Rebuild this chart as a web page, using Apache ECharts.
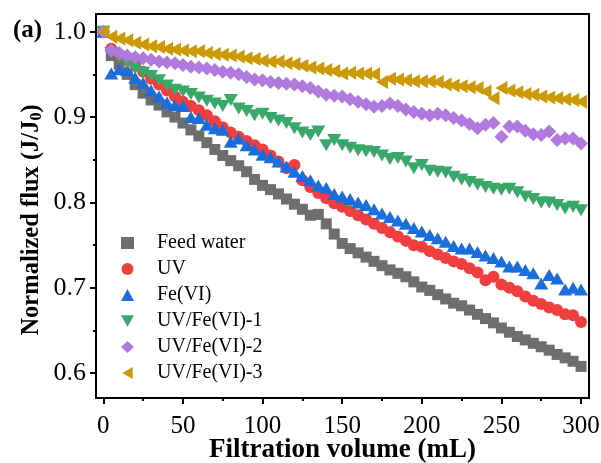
<!DOCTYPE html>
<html>
<head>
<meta charset="utf-8">
<script src="https://cdn.jsdelivr.net/npm/echarts@6/dist/echarts.min.js"></script>
<style>
  html, body { margin: 0; padding: 0; background: #fff; }
  #chart { width: 601px; height: 463px; }
</style>
</head>
<body>
<div id="chart"></div>
<script>
const volume = [0, 5, 10, 15, 20, 25, 30, 35, 40, 45, 50, 55, 60, 65, 70, 75, 80, 85, 90, 95,
  100, 105, 110, 115, 120, 125, 130, 135, 140, 145, 150, 155, 160, 165, 170, 175, 180, 185, 190, 195,
  200, 205, 210, 215, 220, 225, 230, 235, 240, 245, 250, 255, 260, 265, 270, 275, 280, 285, 290, 295, 300];

const feedWater = [1.000, 0.972, 0.962, 0.950, 0.938, 0.928, 0.920, 0.914, 0.906, 0.900,
  0.893, 0.885, 0.878, 0.870, 0.862, 0.855, 0.849, 0.843, 0.836, 0.827,
  0.820, 0.815, 0.810, 0.804, 0.798, 0.792, 0.785, 0.786, 0.775, 0.763,
  0.752, 0.746, 0.741, 0.736, 0.731, 0.726, 0.721, 0.717, 0.713, 0.707,
  0.701, 0.697, 0.692, 0.687, 0.682, 0.679, 0.674, 0.669, 0.664, 0.659,
  0.653, 0.648, 0.643, 0.639, 0.635, 0.631, 0.627, 0.622, 0.618, 0.614, 0.608];

const uv = [1.000, 0.980, 0.973, 0.967, 0.961, 0.953, 0.945, 0.938, 0.931, 0.924,
  0.918, 0.913, 0.908, 0.902, 0.895, 0.888, 0.882, 0.877, 0.872, 0.867,
  0.862, 0.855, 0.848, 0.840, 0.844, 0.826, 0.818, 0.811, 0.805, 0.799,
  0.795, 0.790, 0.785, 0.780, 0.775, 0.770, 0.765, 0.760, 0.755, 0.750,
  0.748, 0.743, 0.739, 0.735, 0.731, 0.728, 0.723, 0.718, 0.709, 0.713,
  0.704, 0.700, 0.696, 0.690, 0.685, 0.681, 0.677, 0.674, 0.669, 0.668, 0.660];

const feVI = [1.000, 0.951, 0.956, 0.955, 0.946, 0.940, 0.931, 0.924, 0.917, 0.914,
  0.913, 0.900, 0.899, 0.891, 0.887, 0.885, 0.871, 0.875, 0.867, 0.862,
  0.856, 0.853, 0.848, 0.842, 0.836, 0.831, 0.826, 0.820, 0.817, 0.810,
  0.807, 0.804, 0.800, 0.797, 0.792, 0.787, 0.783, 0.779, 0.775, 0.770,
  0.766, 0.762, 0.758, 0.754, 0.749, 0.746, 0.746, 0.742, 0.738, 0.735,
  0.731, 0.725, 0.725, 0.721, 0.717, 0.705, 0.715, 0.711, 0.698, 0.700, 0.698];

const uvFe1 = [1.000, 0.975, 0.970, 0.964, 0.957, 0.952, 0.948, 0.943, 0.937, 0.932,
  0.930, 0.927, 0.923, 0.919, 0.916, 0.913, 0.920, 0.910, 0.907, 0.902,
  0.904, 0.899, 0.896, 0.893, 0.887, 0.882, 0.879, 0.883, 0.867, 0.873,
  0.867, 0.864, 0.861, 0.860, 0.859, 0.855, 0.851, 0.852, 0.848, 0.840,
  0.844, 0.837, 0.836, 0.835, 0.830, 0.827, 0.824, 0.821, 0.818, 0.816,
  0.815, 0.816, 0.812, 0.807, 0.804, 0.800, 0.800, 0.797, 0.793, 0.795, 0.791];

const uvFe2 = [1.000, 0.978, 0.975, 0.972, 0.970, 0.969, 0.967, 0.965, 0.964, 0.963,
  0.961, 0.959, 0.958, 0.957, 0.955, 0.953, 0.952, 0.950, 0.947, 0.944,
  0.943, 0.941, 0.940, 0.939, 0.938, 0.936, 0.934, 0.930, 0.926, 0.925,
  0.924, 0.921, 0.918, 0.915, 0.912, 0.913, 0.916, 0.913, 0.909, 0.906,
  0.904, 0.902, 0.904, 0.902, 0.899, 0.896, 0.892, 0.887, 0.891, 0.893,
  0.877, 0.889, 0.889, 0.884, 0.880, 0.879, 0.883, 0.873, 0.875, 0.875, 0.869];

const uvFe3 = [1.000, 0.994, 0.992, 0.990, 0.987, 0.985, 0.983, 0.982, 0.980, 0.979,
  0.978, 0.977, 0.977, 0.975, 0.974, 0.973, 0.972, 0.971, 0.969, 0.968,
  0.966, 0.965, 0.965, 0.963, 0.962, 0.960, 0.958, 0.957, 0.955, 0.954,
  0.951, 0.952, 0.951, 0.951, 0.950, 0.941, 0.945, 0.944, 0.943, 0.942,
  0.942, 0.942, 0.941, 0.938, 0.937, 0.936, 0.935, 0.934, 0.930, 0.922,
  0.934, 0.931, 0.929, 0.927, 0.926, 0.924, 0.923, 0.922, 0.921, 0.920, 0.918];

const seriesNames = ['Feed water', 'UV', 'Fe(VI)', 'UV/Fe(VI)-1', 'UV/Fe(VI)-2', 'UV/Fe(VI)-3'];
const xTicks = [0, 50, 100, 150, 200, 250, 300];
const xMinorTicks = [25, 75, 125, 175, 225, 275];
const yTicks = [0.6, 0.7, 0.8, 0.9, 1.0];
const yMinorTicks = [0.65, 0.75, 0.85, 0.95];

const FONT = 'Liberation Serif';
const C = {
  gray: '#6e6e6e',
  red: '#f03e3e',
  blue: '#1a6edb',
  green: '#38a86b',
  purple: '#b079e0',
  gold: '#cc9906'
};
const DOWN_TRI = 'path://M0,0 L12,0 L6,10.4 Z';
const LEFT_TRI = 'path://M0,6 L10.4,0 L10.4,12 Z';

const pairs = ys => volume.map((v, i) => [v, ys[i]]);

function scatter(name, data, color, symbol, size) {
  return {
    name: name,
    type: 'scatter',
    data: pairs(data),
    symbol: symbol,
    symbolSize: size,
    itemStyle: { color: color, opacity: 1 },
    emphasis: { disabled: true }
  };
}

const chart = echarts.init(document.getElementById('chart'), null, { renderer: 'canvas' });

const xMin = -4.6, xMax = 305, yMin = 0.571, yMax = 1.0207;
const tickLine = { color: '#000', width: 2 };

chart.setOption({
  animation: false,
  textStyle: { fontFamily: FONT },
  grid: {
    left: 96, right: 12, top: 14, bottom: 65,
    containLabel: false,
    outerBoundsMode: 'none',
    show: true, borderColor: '#000', borderWidth: 2
  },
  graphic: [{
    type: 'text', left: 13, top: 18,
    style: { text: '(a)', font: 'bold 25px "Liberation Serif"', fill: '#000' }
  }, {
    // axis titles placed directly so label overlap logic does not move them
    type: 'text', x: 342.5, y: 450,
    style: {
      text: 'Filtration volume (mL)', align: 'center', verticalAlign: 'middle',
      font: 'bold 27px "Liberation Serif"', fill: '#000'
    }
  }, {
    type: 'text', x: 30, y: 220, rotation: Math.PI / 2,
    style: {
      text: '{a|Normalized flux (J/J}{s|0}{a|)}',
      align: 'center', verticalAlign: 'middle',
      rich: {
        a: { fontFamily: FONT, fontWeight: 'bold', fontSize: 24.5, fill: '#000', lineHeight: 29, verticalAlign: 'bottom' },
        s: { fontFamily: FONT, fontWeight: 'bold', fontSize: 16, fill: '#000', lineHeight: 25, verticalAlign: 'bottom' }
      }
    }
  }],
  legend: {
    orient: 'vertical',
    left: 121, top: 233,
    padding: 0,
    itemWidth: 13, itemHeight: 12,
    itemGap: 6,
    data: seriesNames,
    textStyle: { fontFamily: FONT, fontSize: 20, color: '#000', lineHeight: 20, padding: [0, 0, 0, 18] }
  },
  xAxis: [{
    type: 'value', min: xMin, max: xMax,
    axisLine: { show: true, onZero: false, lineStyle: { color: '#000', width: 2 } },
    axisTick: { show: true, customValues: xTicks, length: 6, lineStyle: tickLine },
    axisLabel: { customValues: xTicks, fontFamily: FONT, fontSize: 25, color: '#000', margin: 16 },
    splitLine: { show: false }
  }, {
    type: 'value', min: xMin, max: xMax, position: 'bottom',
    axisLine: { show: false, onZero: false },
    axisTick: { show: true, customValues: xMinorTicks, length: 3, lineStyle: tickLine },
    axisLabel: { show: false },
    splitLine: { show: false }
  }],
  yAxis: [{
    type: 'value', min: yMin, max: yMax,
    axisLine: { show: true, onZero: false, lineStyle: { color: '#000', width: 2 } },
    axisTick: { show: true, customValues: yTicks, length: 6, lineStyle: tickLine },
    axisLabel: {
      customValues: yTicks, fontFamily: FONT, fontSize: 26, color: '#000', margin: 10,
      formatter: v => v.toFixed(1)
    },
    splitLine: { show: false }
  }, {
    type: 'value', min: yMin, max: yMax, position: 'left',
    axisLine: { show: false, onZero: false },
    axisTick: { show: true, customValues: yMinorTicks, length: 3, lineStyle: tickLine },
    axisLabel: { show: false },
    splitLine: { show: false }
  }],
  series: [
    scatter('Feed water', feedWater, C.gray, 'rect', 11),
    scatter('UV', uv, C.red, 'circle', 12),
    scatter('Fe(VI)', feVI, C.blue, 'triangle', [14, 12]),
    scatter('UV/Fe(VI)-1', uvFe1, C.green, DOWN_TRI, [14, 12]),
    scatter('UV/Fe(VI)-2', uvFe2, C.purple, 'diamond', [14, 14]),
    scatter('UV/Fe(VI)-3', uvFe3, C.gold, LEFT_TRI, [12, 14])
  ]
});
</script>
</body>
</html>
